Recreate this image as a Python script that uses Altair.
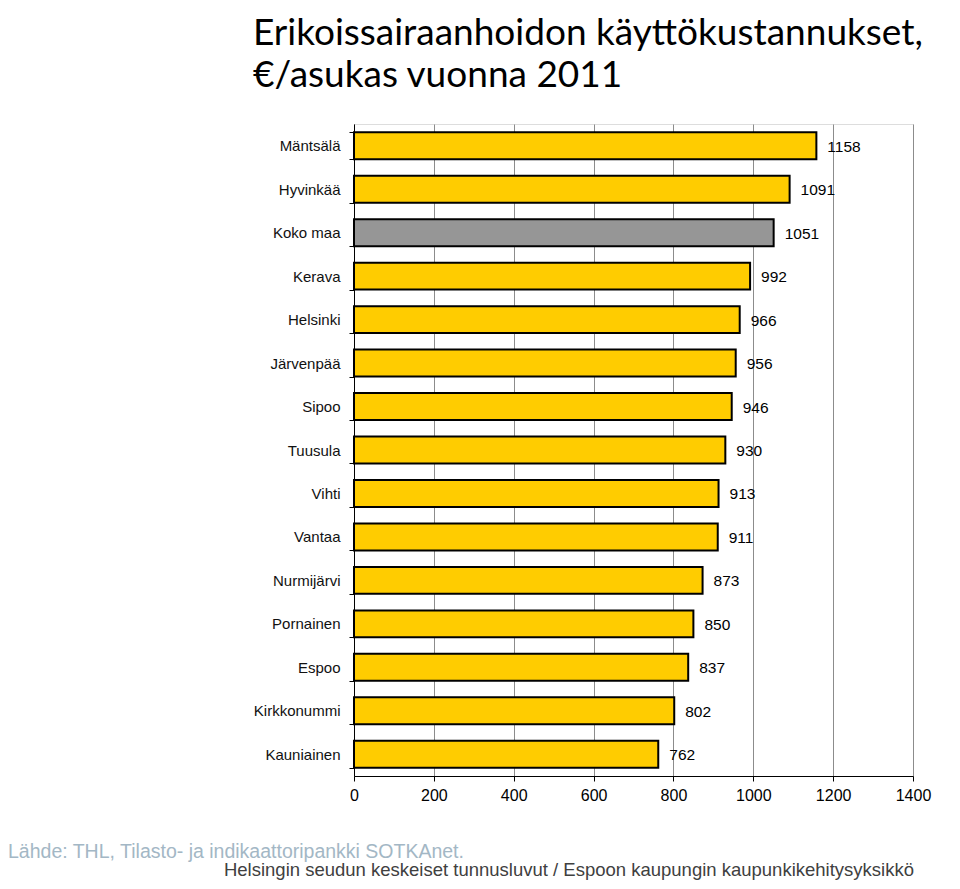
import altair as alt
import pandas as pd

categories = ["Mäntsälä", "Hyvinkää", "Koko maa", "Kerava", "Helsinki", "Järvenpää",
              "Sipoo", "Tuusula", "Vihti", "Vantaa", "Nurmijärvi", "Pornainen",
              "Espoo", "Kirkkonummi", "Kauniainen"]
values = [1158, 1091, 1051, 992, 966, 956, 946, 930, 913, 911, 873, 850, 837, 802, 762]
groups = ["kunta", "kunta", "koko maa"] + ["kunta"] * 12

title_lines = ["Erikoissairaanhoidon käyttökustannukset,", "€/asukas vuonna 2011"]
source_text = "Lähde: THL, Tilasto- ja indikaattoripankki SOTKAnet."
credit_text = "Helsingin seudun keskeiset tunnusluvut / Espoon kaupungin kaupunkikehitysyksikkö"

df = pd.DataFrame({"alue": categories, "arvo": values, "ryhma": groups})

W, H = 559, 652
FONT = "Liberation Sans"

y_enc = alt.Y("alue:N", sort=None, title=None,
              scale=alt.Scale(paddingInner=0.38, paddingOuter=0.19),
              axis=alt.Axis(labelFont=FONT, labelFontSize=15, labelColor="#111",
                            tickBand="extent", tickSize=5, tickColor="#000",
                            domainColor="#000", labelPadding=9))
x_enc = alt.X("arvo:Q", title=None,
              scale=alt.Scale(domain=[0, 1400], nice=False),
              axis=alt.Axis(values=list(range(0, 1401, 200)), format="d", labelFont=FONT,
                            labelFontSize=16, labelColor="#000", tickSize=5,
                            tickColor="#000", domainColor="#000", gridColor="#8c8c8c",
                            gridWidth=1, labelPadding=6, labelFlush=False))

bars = alt.Chart(df).mark_bar(stroke="#000", strokeWidth=2).encode(
    x=x_enc, y=y_enc,
    color=alt.Color("ryhma:N", legend=None,
                    scale=alt.Scale(domain=["kunta", "koko maa"],
                                    range=["#FFCC00", "#969696"])),
)

labels = alt.Chart(df).mark_text(align="left", baseline="middle", dx=11, dy=1, font=FONT,
                                 fontSize=15.5, color="#000").encode(
    x="arvo:Q", y=alt.Y("alue:N", sort=None), text="arvo:Q")

title1 = alt.Chart(pd.DataFrame({"t": [title_lines[0]]})).mark_text(
    align="left", baseline="alphabetic", font="Lato", fontSize=37, color="#000").encode(
    x=alt.value(-101), y=alt.value(-79), text="t:N")
title2 = alt.Chart(pd.DataFrame({"t": [title_lines[1]]})).mark_text(
    align="left", baseline="alphabetic", font="Lato", fontSize=37, color="#000").encode(
    x=alt.value(-101), y=alt.value(-37), text="t:N")

src = alt.Chart(pd.DataFrame({"t": [source_text]})).mark_text(
    align="left", baseline="alphabetic", font=FONT, fontSize=19.5, color="#a3b7c5").encode(
    x=alt.value(-346), y=alt.value(734), text="t:N")
cred = alt.Chart(pd.DataFrame({"t": [credit_text]})).mark_text(
    align="right", baseline="alphabetic", font=FONT, fontSize=18.5, color="#404040").encode(
    x=alt.value(560), y=alt.value(752), text="t:N")

chart = alt.layer(bars, labels, title1, title2, src, cred).properties(
    width=W, height=H,
    autosize=alt.AutoSizeParams(type="none"),
    padding={"left": 346, "top": 116, "right": 39, "bottom": 105},
).configure_view(stroke="#8c8c8c", strokeWidth=1).configure(background="white")

chart.save("out.html", embed_options={"renderer": "svg", "actions": False})
